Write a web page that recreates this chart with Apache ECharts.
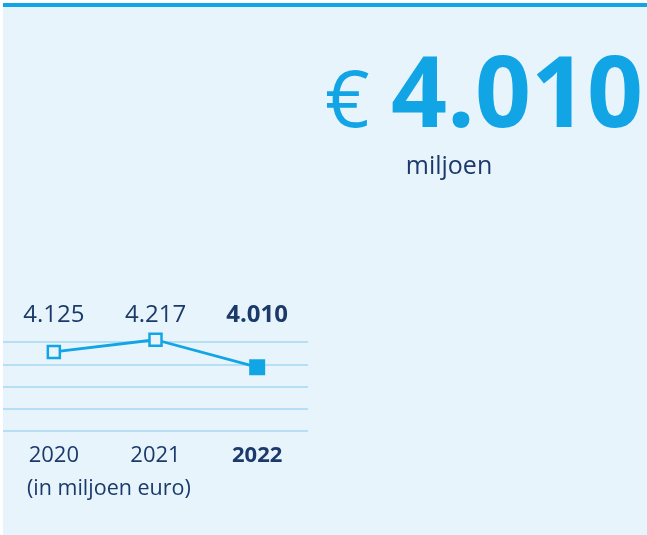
<!DOCTYPE html>
<html>
<head>
<meta charset="utf-8">
<script src="https://cdn.jsdelivr.net/npm/echarts@6/dist/echarts.min.js"></script>
<style>
  html, body { margin: 0; padding: 0; background: #ffffff; }
  #chart { position: absolute; left: 3px; top: 3px; width: 644px; height: 532px; }
</style>
</head>
<body>
<div id="chart"></div>
<script>
// data
const years = ['2020', '2021', '2022']
const values = [4125, 4217, 4010]
const valueLabels = ['4.125', '4.217', '4.010']
const unitNote = '(in miljoen euro)'
const headlineUnit = 'miljoen'

const colors = {
  bg: '#e8f4fb',
  accent: '#12a5e6',
  grid: '#b6def4',
  navy: '#1b3a6b',
}
const font = '"Open Sans", "Noto Sans", sans-serif'
const last = years.length - 1

const chart = echarts.init(document.getElementById('chart'), null, { renderer: 'canvas' })

chart.setOption({
  animation: false,
  backgroundColor: colors.bg,
  grid: { left: 0, top: 339, width: 305, height: 89 },
  xAxis: [
    {
      type: 'category',
      data: years,
      position: 'bottom',
      axisLine: { show: false },
      axisTick: { show: false },
      axisLabel: {
        interval: 0,
        margin: 14,
        fontFamily: font,
        fontSize: 22,
        color: colors.navy,
        formatter: (v, i) => (i === last ? '{b|' + v + '}' : v),
        rich: { b: { fontFamily: font, fontSize: 22, fontWeight: 'bold', color: colors.navy } },
      },
    },
    {
      type: 'category',
      data: valueLabels,
      position: 'top',
      axisLine: { show: false },
      axisTick: { show: false },
      axisLabel: {
        interval: 0,
        margin: 15,
        fontFamily: font,
        fontSize: 24,
        color: colors.navy,
        formatter: (v, i) => (i === last ? '{b|' + v + '}' : v),
        rich: { b: { fontFamily: font, fontSize: 24, fontWeight: 'bold', color: colors.navy } },
      },
    },
  ],
  yAxis: {
    type: 'value',
    min: 3528,
    max: 4200,
    interval: 168,
    axisLine: { show: false },
    axisTick: { show: false },
    axisLabel: { show: false },
    splitLine: { lineStyle: { color: colors.grid, width: 2 } },
  },
  series: [
    {
      type: 'line',
      xAxisIndex: 0,
      clip: false,
      symbol: 'rect',
      data: values.map((v, i) => ({
        value: v,
        itemStyle: i === last
          ? { color: colors.accent, borderColor: colors.accent, borderWidth: 2 }
          : { color: colors.bg, borderColor: colors.accent, borderWidth: 2.5 },
        symbolSize: i === last ? 14 : 12,
      })),
      lineStyle: { color: colors.accent, width: 2.8 },
      z: 3,
    },
  ],
  graphic: [
    { type: 'rect', left: 0, top: 0, shape: { width: 644, height: 4 }, style: { fill: colors.accent } },
    {
      type: 'text',
      x: 24,
      y: 486,
      style: { text: unitNote, font: '21.5px ' + font, fill: colors.navy, verticalAlign: 'middle' },
    },
    {
      type: 'text',
      x: 322,
      y: 102,
      style: { text: '€', font: '78px ' + font, fill: colors.accent, verticalAlign: 'middle' },
    },
    {
      type: 'text',
      x: 640,
      y: 96,
      style: { text: valueLabels[last], font: 'bold 98px ' + font, fill: colors.accent, align: 'right', verticalAlign: 'middle' },
    },
    {
      type: 'text',
      x: 446,
      y: 164,
      style: { text: headlineUnit, font: '25px ' + font, fill: colors.navy, align: 'center', verticalAlign: 'middle' },
    },
  ],
})
</script>
</body>
</html>
